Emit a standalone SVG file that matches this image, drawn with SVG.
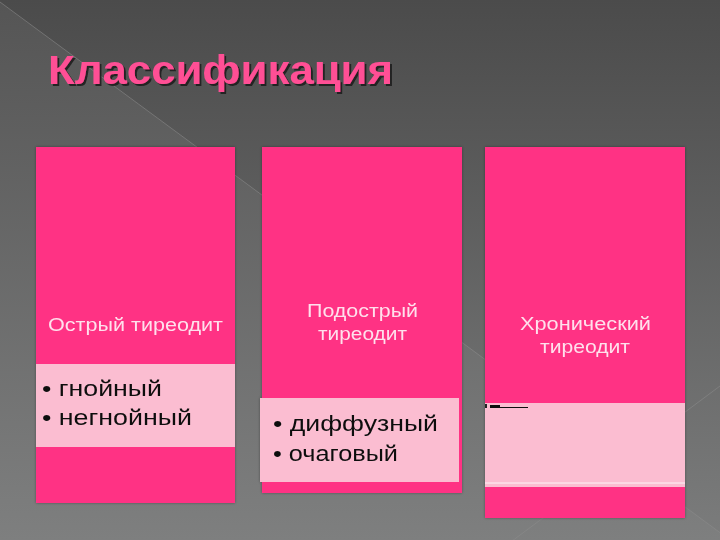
<svg xmlns="http://www.w3.org/2000/svg" width="720" height="540" viewBox="0 0 720 540">
<style>
.card{fill:#ff3384}
.list{fill:#fbbdd1}
.head{font-family:"Liberation Sans",Arial,sans-serif;font-size:18px;fill:#ffe0ec}
.item{font-family:"Liberation Sans",Arial,sans-serif;font-size:22px;fill:#111}
.diag{stroke:#8c8c8c;stroke-width:1;fill:none;opacity:.55}
</style>
<defs>
<linearGradient id="bg" x1="0" y1="0" x2="0" y2="1">
<stop offset="0" stop-color="#4b4b4b"/>
<stop offset="1" stop-color="#7b7c7c"/>
</linearGradient>
<linearGradient id="tri" x1="0" y1="0" x2="0" y2="1">
<stop offset="0" stop-color="#555555"/>
<stop offset="1" stop-color="#7e7f7f"/>
</linearGradient>
<filter id="sh" x="-5%" y="-5%" width="110%" height="120%">
<feDropShadow dx="2" dy="2" stdDeviation="0.6" flood-color="#1a1a1a" flood-opacity="0.9"/>
</filter>
<filter id="cs" x="-5%" y="-5%" width="110%" height="110%">
<feDropShadow dx="0" dy="0" stdDeviation="1.5" flood-color="#000" flood-opacity="0.35"/>
</filter>
</defs>
<rect width="720" height="540" fill="url(#bg)"/>
<polygon points="0,2 730,540 0,540" fill="url(#tri)"/>
<g class="diag">
<line x1="0" y1="2" x2="730" y2="540"/>
<line x1="500" y1="550" x2="720" y2="386"/>
</g>
<g id="title">
<text x="48" y="84" font-family="Liberation Sans,Arial,sans-serif" font-size="40" font-weight="bold" fill="#ff4f95" filter="url(#sh)" textLength="345" lengthAdjust="spacingAndGlyphs">Классификация</text>
</g>
<g id="node-acute" filter="url(#cs)">
<rect class="card" x="36" y="147" width="199" height="356"/>
<rect class="list" x="36" y="364" width="199" height="83"/>
<text class="head" x="48" y="331" textLength="175" lengthAdjust="spacingAndGlyphs">Острый тиреодит</text>
<text class="item" x="42" y="396" textLength="120" lengthAdjust="spacingAndGlyphs">• гнойный</text>
<text class="item" x="42" y="425" textLength="150" lengthAdjust="spacingAndGlyphs">• негнойный</text>
</g>
<g id="node-subacute" filter="url(#cs)">
<rect class="card" x="262" y="147" width="200" height="346"/>
<rect class="list" x="260" y="398" width="199" height="84"/>
<text class="head" x="307" y="317" textLength="111" lengthAdjust="spacingAndGlyphs">Подострый</text>
<text class="head" x="318" y="340" textLength="89" lengthAdjust="spacingAndGlyphs">тиреодит</text>
<text class="item" x="273" y="431" textLength="165" lengthAdjust="spacingAndGlyphs">• диффузный</text>
<text class="item" x="273" y="461" textLength="125" lengthAdjust="spacingAndGlyphs">• очаговый</text>
</g>
<g id="node-chronic" filter="url(#cs)">
<rect class="card" x="485" y="147" width="200" height="371"/>
<rect class="list" x="485" y="403" width="200" height="84"/>
<line x1="485" y1="483" x2="685" y2="483" stroke="#ffffff" stroke-width="1" opacity="0.8"/>
<text class="head" x="520" y="330" textLength="131" lengthAdjust="spacingAndGlyphs">Хронический</text>
<text class="head" x="540" y="353" textLength="90" lengthAdjust="spacingAndGlyphs">тиреодит</text>
<rect x="485" y="404" width="2" height="4" fill="#222"/>
<rect x="490" y="405" width="10" height="2" fill="#111"/>
<rect x="490" y="407" width="38" height="1" fill="#111"/>
</g>
<g id="connectors"></g>
</svg>
